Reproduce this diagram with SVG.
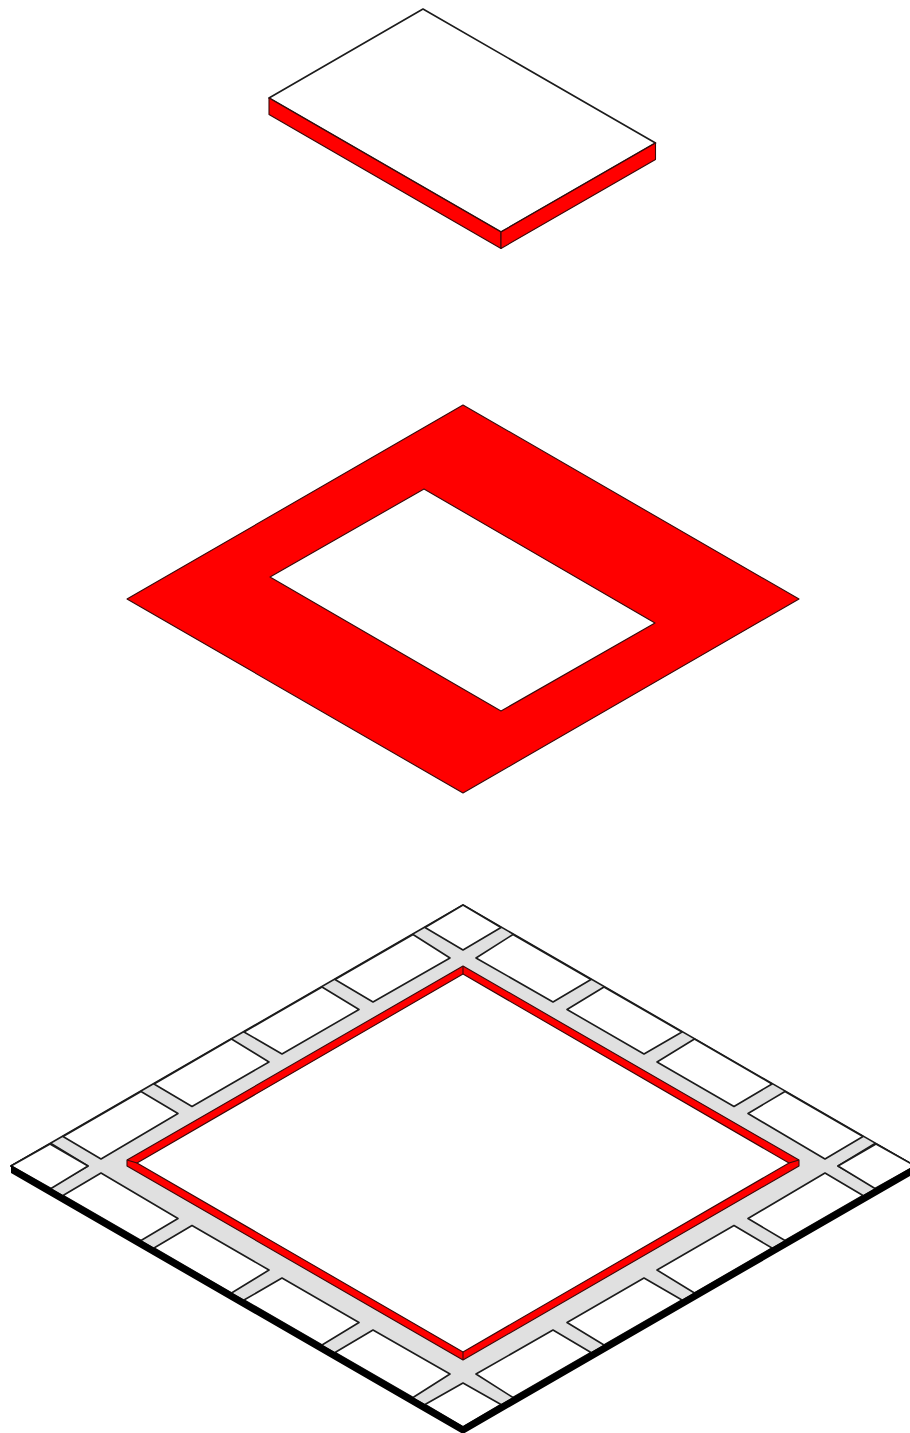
<svg xmlns="http://www.w3.org/2000/svg" width="910" height="1433" viewBox="0 0 910 1433">
<style>
.l{stroke:#1c1c1c;stroke-width:1.6;stroke-linejoin:round}
.e{stroke:#3a0a0a;stroke-width:1.1;stroke-linejoin:round}
.w{fill:#fff}
.r{fill:#f00}
.g{fill:#e0e0e0}
.k{fill:#000}
</style>
<defs>
<g id="quarter">
<polygon class="w l" points="513,934.5 591,979.5 553,1002 476,958"/>
<polygon class="w l" points="604,987 682,1032 644,1054 567,1009.5"/>
<polygon class="w l" points="694.5,1039 772,1084 734,1106.5 657,1062"/>
<polygon class="w l" points="785,1091.5 863,1136.5 825,1159 748,1113.5"/>
<polygon class="w l" points="875,1143.500 915,1166 876,1188 838,1166"/>
</g>
</defs>
<rect width="910" height="1433" fill="#fff"/>
<g id="slab">
<polygon class="w l" points="423,9 655.5,143 501,232 269,98"/>
<polygon class="r e" points="269,98 501,232 501,248.500 269,114.500"/>
<polygon class="r e" points="501,232 655.500,143 655.500,159.500 501,248.500"/>
</g>
<g id="frame">
<path class="r e" fill-rule="evenodd" d="M463,405 799,599 463,793 127,599Z M424,489 270,577 501,711 655,623Z"/>
</g>
<g id="base">
<polygon class="g l" points="463,905 915,1166 463,1427 11,1166"/>
<polygon class="w l" points="463,905 501,927.500 463,950 425,927.500"/>
<polygon class="w l" points="463,1383 501,1404.500 463,1427 425,1404.500"/>
<use href="#quarter"/>
<use href="#quarter" transform="translate(926,0) scale(-1,1)"/>
<use href="#quarter" transform="translate(0,2332) scale(1,-1)"/>
<use href="#quarter" transform="translate(926,2332) scale(-1,-1)"/>
<polygon class="k" points="11,1165 463,1426 915,1165 915,1173 463,1434 11,1173"/>
<polygon class="w" points="463,974 137,1163 463,1352 789,1163"/>
<path class="r e" fill-rule="evenodd" d="M463,966 799,1160 799,1166 463,1360 127,1166 127,1160Z M463,974 137,1163 463,1352 789,1163Z"/>
<path class="e" fill="none" d="M463,966V974M463,1352V1360M127,1160 137,1163M799,1160 789,1163"/>
</g>
</svg>
